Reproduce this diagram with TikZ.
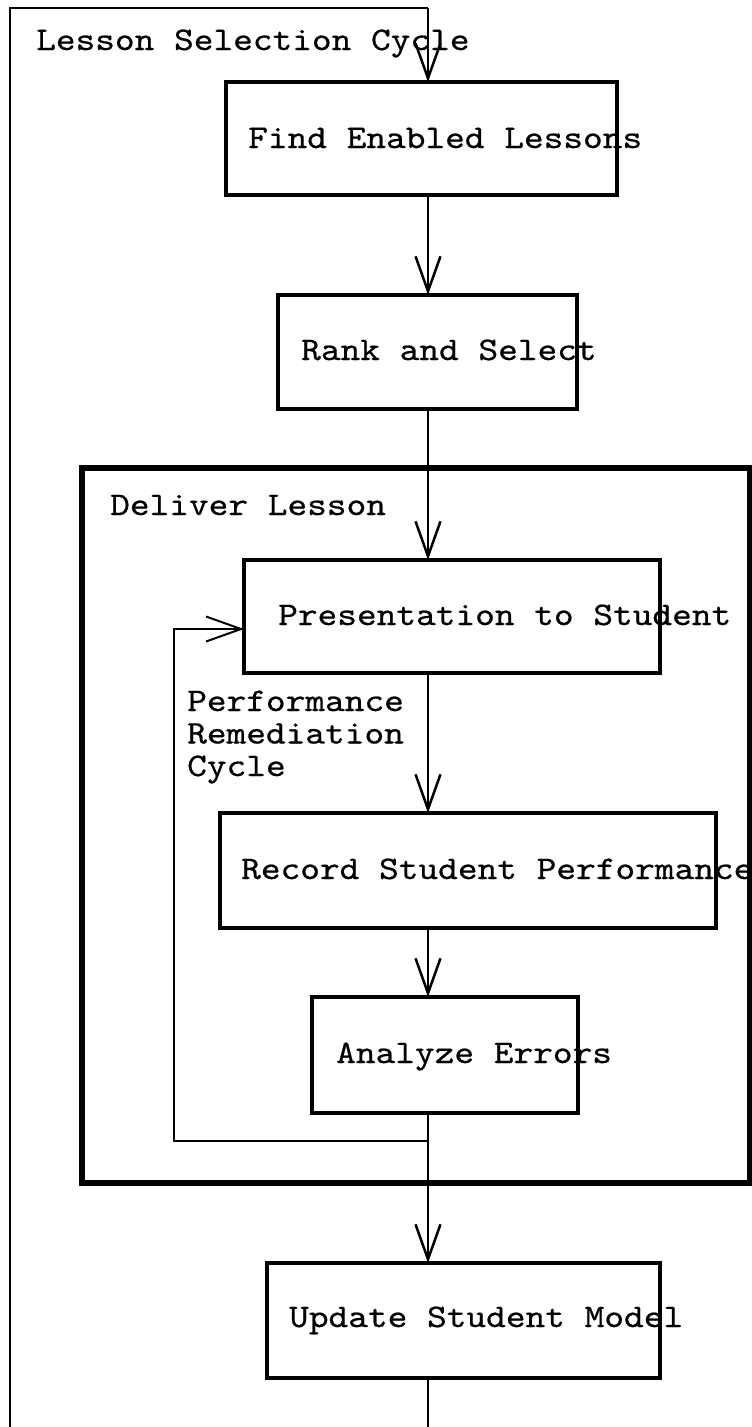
\documentclass[tikz,border=0pt]{standalone}
\usepackage{fontspec}
\newfontfamily\courfont[FakeStretch=1.137,FakeBold=0.6]{lmmono10-regular.otf}
\usetikzlibrary{arrows.meta}
\begin{document}
\begin{tikzpicture}[x=1pt,y=-1pt,
  stepbox/.style={draw,line width=4pt,rectangle,inner sep=0pt,outer sep=0pt},
  groupbox/.style={draw,line width=5.5pt,rectangle,inner sep=0pt,outer sep=0pt},
  lbl/.style={anchor=base west,inner sep=0pt,font=\courfont\fontsize{33}{32.5}\selectfont},
  conn/.style={line width=2.5pt,-{Straight Barb[length=35pt,width=25pt,line join=miter]}},
  plain/.style={line width=2.5pt}]
\useasboundingbox (0,0) rectangle (752,1427);
% group box
\node[groupbox,minimum width=668pt,minimum height=715pt] (deliver) at (416,825.5) {};
% step boxes
\node[stepbox,minimum width=391pt,minimum height=113pt] (find) at (421.5,138.5) {};
\node[stepbox,minimum width=299pt,minimum height=114pt] (rank) at (427.5,352) {};
\node[stepbox,minimum width=416pt,minimum height=113pt] (pres) at (452,616.5) {};
\node[stepbox,minimum width=496pt,minimum height=115pt] (rec) at (468,870.5) {};
\node[stepbox,minimum width=266pt,minimum height=116pt] (ana) at (445,1055) {};
\node[stepbox,minimum width=393pt,minimum height=115pt] (upd) at (463,1320.5) {};
% texts
\node[lbl] (tcycle) at (36,50) {Lesson Selection Cycle};
\node[lbl] (tfind) at (248,148) {Find Enabled Lessons};
\node[lbl] (trank) at (301,360) {Rank and Select};
\node[lbl] (tdeliver) at (110,515) {Deliver Lesson};
\node[lbl] (tpres) at (278,625) {Presentation to Student};
\node[lbl] (tperf) at (187,711) {Performance};
\node[lbl] (trem) at (187,743.5) {Remediation};
\node[lbl] (tcyc2) at (187,776) {Cycle};
\node[lbl] (trec) at (241,879) {Record Student Performance};
\node[lbl] (tana) at (336,1063) {Analyze Errors};
\node[lbl] (tupd) at (289,1327) {Update Student Model};
% coordinates
\coordinate (ob) at (10,1427);
\coordinate (otl) at (10,8);
\coordinate (otr) at (428,8);
\coordinate (fb1) at (428,1141);
\coordinate (fb2) at (174,1141);
\coordinate (fb3) at (174,629);
\coordinate (bend) at (428,1427);
% connectors
\draw[plain,line join=miter] (ob) -- (otl) -- (otr);
\draw[conn] (otr) -- (otr |- find.north);
\draw[conn] (otr |- find.south) -- (otr |- rank.north);
\draw[conn] (otr |- rank.south) -- (otr |- pres.north);
\draw[conn] (otr |- pres.south) -- (otr |- rec.north);
\draw[conn] (otr |- rec.south) -- (otr |- ana.north);
\draw[conn] (otr |- ana.south) -- (otr |- upd.north);
\draw[plain] (otr |- upd.south) -- (bend);
\draw[conn,line width=2pt] (fb1) -- (fb2) -- (fb3) -- (pres.west |- fb3);
\end{tikzpicture}
\end{document}
